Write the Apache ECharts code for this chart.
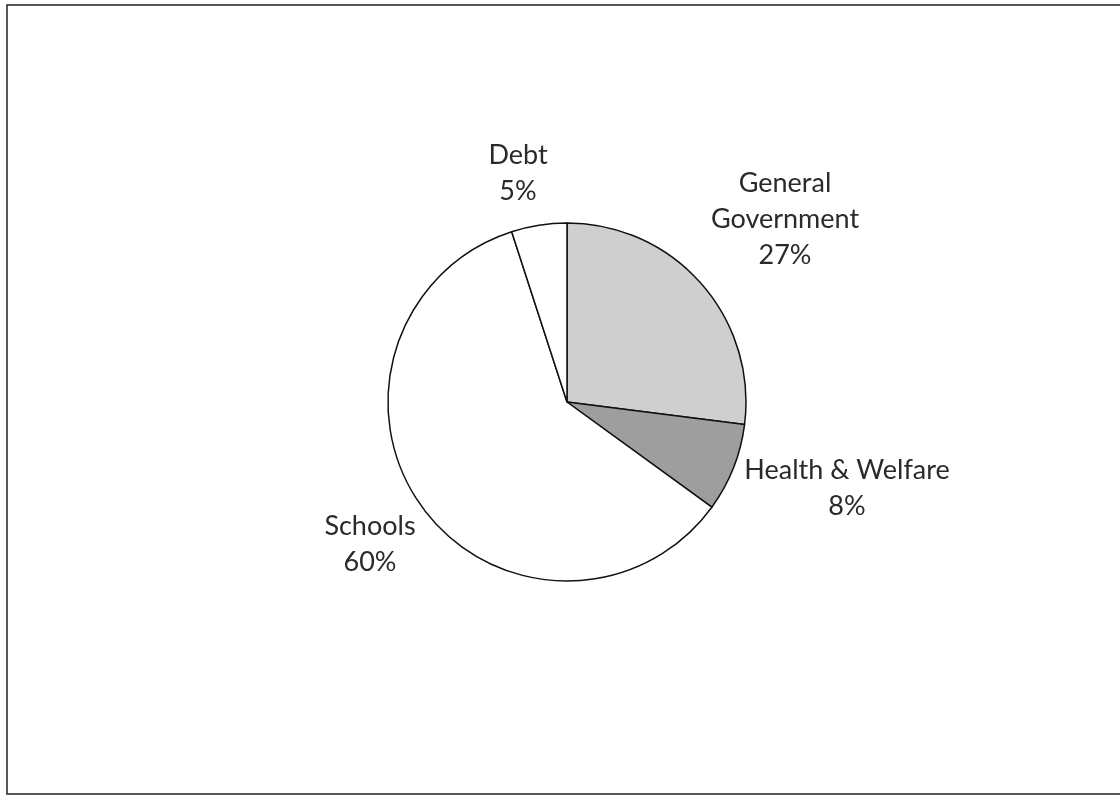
<!DOCTYPE html>
<html>
<head>
<meta charset="utf-8">
<script src="https://cdn.jsdelivr.net/npm/echarts@6/dist/echarts.min.js"></script>
<style>
  html, body { margin: 0; padding: 0; background: #fff; }
  #chart { width: 1120px; height: 797px; }
</style>
</head>
<body>
<div id="chart"></div>
<script>
// Budget share by function
const categories = ['General\nGovernment', 'Health & Welfare', 'Schools', 'Debt'];
const shares = [27, 8, 60, 5];
const fills = ['#cfcfcf', '#9e9e9e', '#ffffff', '#ffffff'];

// label anchor offsets from the pie centre, per slice
const labelOffsets = [[218, -183], [280, 86], [-197, 142], [-49, -229]];

const center = [567, 402];
const radius = 179;

const chart = echarts.init(document.getElementById('chart'), null, { renderer: 'canvas' });

chart.setOption({
  backgroundColor: '#ffffff',
  animation: false,
  graphic: [{
    type: 'rect',
    shape: { x: 7, y: 5, width: 1125, height: 789 },
    style: { fill: 'none', stroke: '#222', lineWidth: 1.5 }
  }],
  series: [{
    type: 'pie',
    center: center,
    radius: radius,
    startAngle: 90,
    clockwise: true,
    avoidLabelOverlap: false,
    itemStyle: { borderColor: '#111', borderWidth: 1.5 },
    label: {
      show: true,
      position: 'outside',
      formatter: p => p.name + '\n' + p.value + '%',
      fontFamily: 'Lato, "Open Sans", sans-serif',
      fontSize: 27,
      lineHeight: 36,
      color: '#2a2a2a',
      align: 'center'
    },
    labelLine: { show: false },
    labelLayout: p => {
      const o = labelOffsets[p.dataIndex];
      return {
        x: center[0] + o[0],
        y: center[1] + o[1],
        align: 'center',
        verticalAlign: 'middle'
      };
    },
    emphasis: { disabled: true },
    data: categories.map((name, i) => ({
      name: name,
      value: shares[i],
      itemStyle: { color: fills[i] }
    }))
  }]
});
</script>
</body>
</html>
